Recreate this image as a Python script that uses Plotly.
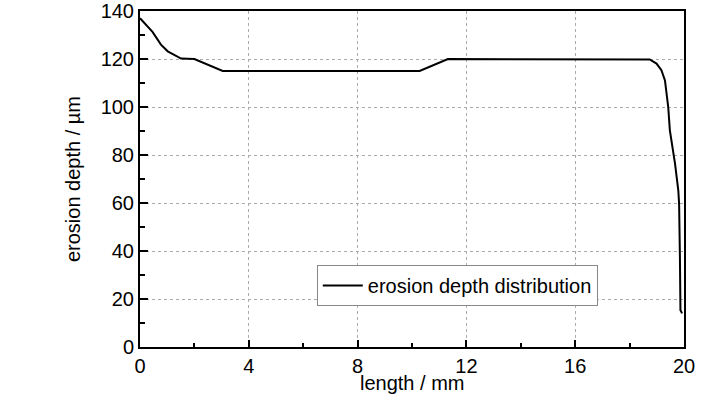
import plotly.graph_objects as go

length_mm = [0.0, 0.2, 0.46, 0.77, 1.02, 1.51, 2.0, 3.04, 5.0, 8.0, 10.28, 11.32, 14.0, 17.0, 18.44,
             18.74, 18.99, 19.17, 19.3, 19.36, 19.42, 19.48, 19.67, 19.79, 19.82, 19.85, 19.87, 19.93]
depth_um = [137.0, 134.5, 131.3, 126.0, 123.2, 120.2, 120.0, 115.0, 115.0, 115.0, 115.0, 120.0, 120.0, 120.0, 120.0,
            119.8, 118.1, 115.3, 111.1, 105.6, 100.0, 90.3, 76.4, 65.3, 59.7, 37.5, 15.3, 14.0]

x_ticks = [0, 4, 8, 12, 16, 20]
y_ticks = [0, 20, 40, 60, 80, 100, 120, 140]

FONT = "Liberation Sans, Arial, sans-serif"

fig = go.Figure()
fig.add_trace(go.Scatter(x=length_mm, y=depth_um, mode="lines",
                         line=dict(color="black", width=2),
                         name="erosion depth distribution"))

fig.update_layout(
    width=728, height=399,
    margin=dict(l=140, r=44, t=11, b=52),
    paper_bgcolor="white", plot_bgcolor="white",
    font=dict(family=FONT, size=20, color="black"),
    showlegend=True,
    legend=dict(x=0.325, y=0.244, xanchor="left", yanchor="top",
                bordercolor="#888888", borderwidth=1, bgcolor="white",
                font=dict(size=20), itemwidth=40,
                tracegroupgap=0),
    annotations=[dict(text="length / mm", xref="paper", yref="paper",
                      x=0.5, y=-0.107, xanchor="center", yanchor="middle",
                      showarrow=False, font=dict(size=20))],
)
fig.update_xaxes(
    range=[0, 20], tickvals=x_ticks, ticktext=[str(v) for v in x_ticks],
    automargin=False,
    showline=True, linecolor="black", linewidth=2, mirror=True,
    ticks="inside", ticklen=7, tickwidth=1.5, tickcolor="black",
    minor=dict(dtick=2, ticks="inside", ticklen=4, tickcolor="black", showgrid=False),
    showgrid=True, gridcolor="#aaaaaa", griddash="3px,3px", gridwidth=1,
    zeroline=False,
)
fig.update_yaxes(
    range=[0, 140], tickvals=y_ticks, ticktext=[str(v) for v in y_ticks],
    automargin=False,
    showline=True, linecolor="black", linewidth=2, mirror=True,
    ticks="inside", ticklen=8, tickwidth=1.5, tickcolor="black",
    minor=dict(dtick=10, ticks="inside", ticklen=5, tickcolor="black", showgrid=False),
    showgrid=True, gridcolor="#aaaaaa", griddash="3px,3px", gridwidth=1,
    zeroline=False,
    title=dict(text="erosion depth / µm", standoff=15, font=dict(size=20)),
)

fig.write_html("out.html", config={"displayModeBar": False},
               post_script="document.body.style.margin='0';")
